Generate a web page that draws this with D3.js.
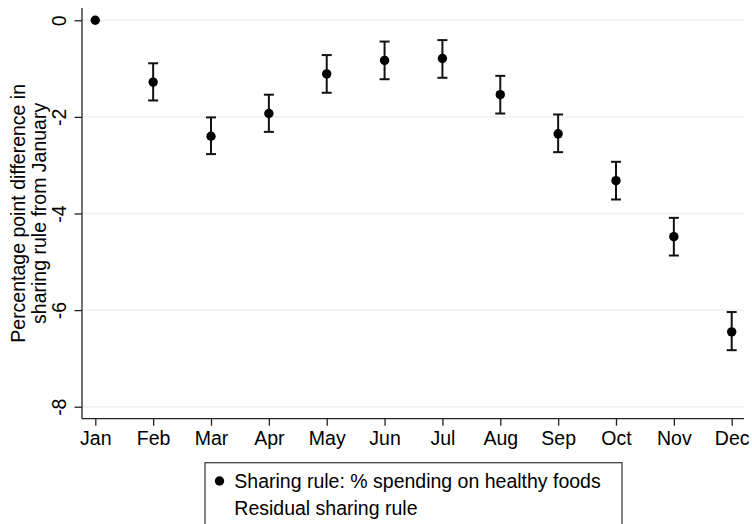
<!DOCTYPE html>
<html>
<head>
<meta charset="utf-8">
<script src="https://cdn.jsdelivr.net/npm/d3@7"></script>
<style>
  html, body { margin: 0; padding: 0; background: #fff; }
  svg { display: block; }
  text { font-family: "Liberation Sans", Arial, sans-serif; fill: #000; }
</style>
</head>
<body>
<svg id="chart" width="752" height="524"></svg>
<script>
const months = ["Jan","Feb","Mar","Apr","May","Jun","Jul","Aug","Sep","Oct","Nov","Dec"];
const estimate = [0, -1.28, -2.40, -1.93, -1.11, -0.83, -0.79, -1.54, -2.35, -3.32, -4.48, -6.45];
const ciLow   = [0, -1.66, -2.77, -2.31, -1.50, -1.22, -1.19, -1.93, -2.73, -3.71, -4.87, -6.83];
const ciHigh  = [0, -0.89, -2.01, -1.54, -0.72, -0.44, -0.41, -1.15, -1.95, -2.93, -4.09, -6.04];
const yTicks = [0, -2, -4, -6, -8];
const yTickLabels = ["0", "-2", "-4", "-6", "-8"];
const yTitle = ["Percentage point difference in", "sharing rule from January"];
const legendLabels = ["Sharing rule: % spending on healthy foods", "Residual sharing rule"];

const svg = d3.select("#chart");
const FS = "19.5px";

const plotLeft = 82, plotRight = 744, plotTop = 8, plotBottom = 418.7;

const x = d3.scaleLinear().domain([0, 11]).range([95.3, 731.7]);
const y = d3.scaleLinear().domain([-8, 0]).range([406.7, 20.3]);

// gridlines
svg.append("g").selectAll("line").data(yTicks).join("line")
  .attr("x1", plotLeft).attr("x2", plotRight)
  .attr("y1", d => y(d)).attr("y2", d => y(d))
  .attr("stroke", "#eaf0f3").attr("stroke-width", 1.5);

// y axis
const yAxis = svg.append("g").attr("transform", `translate(${plotLeft},0)`)
  .call(d3.axisLeft(y).tickValues(yTicks).tickSize(7.5).tickPadding(8)
    .tickFormat((d, i) => yTickLabels[i]));
yAxis.select(".domain").remove();
yAxis.selectAll(".tick line").attr("stroke", "#222").attr("stroke-width", 1.3);
yAxis.selectAll(".tick text")
  .style("font-size", FS)
  .attr("x", null).attr("dy", null)
  .attr("text-anchor", "middle")
  .attr("transform", "translate(-16,0) rotate(-90)")
  .attr("y", 0);
svg.append("line").attr("x1", plotLeft).attr("x2", plotLeft)
  .attr("y1", plotTop).attr("y2", plotBottom)
  .attr("stroke", "#222").attr("stroke-width", 1.3);

// x axis
const xAxis = svg.append("g").attr("transform", `translate(0,${plotBottom})`)
  .call(d3.axisBottom(x).tickValues(d3.range(12)).tickSize(7).tickPadding(5)
    .tickFormat(i => months[i]));
xAxis.select(".domain").remove();
xAxis.selectAll(".tick line").attr("stroke", "#222").attr("stroke-width", 1.3);
xAxis.selectAll(".tick text").style("font-size", FS).attr("dy", "0.71em");
svg.append("line").attr("x1", plotLeft).attr("x2", plotRight)
  .attr("y1", plotBottom).attr("y2", plotBottom)
  .attr("stroke", "#222").attr("stroke-width", 1.3);

// y title
const tt = svg.append("text")
  .attr("transform", `translate(0,${(plotTop + plotBottom) / 2}) rotate(-90)`)
  .attr("text-anchor", "middle")
  .style("font-size", FS);
tt.append("tspan").attr("x", 0).attr("y", 24.5).text(yTitle[0]);
tt.append("tspan").attr("x", 0).attr("y", 45.5).text(yTitle[1]);

// error bars
const idx = d3.range(months.length).filter(i => ciHigh[i] !== ciLow[i]);
const eb = svg.append("g").attr("stroke", "#111").attr("stroke-width", 2).attr("fill", "none");
eb.selectAll("line.v").data(idx).join("line").attr("class", "v")
  .attr("x1", i => x(i)).attr("x2", i => x(i))
  .attr("y1", i => y(ciHigh[i])).attr("y2", i => y(ciLow[i]));
eb.selectAll("line.t").data(idx).join("line").attr("class", "t")
  .attr("x1", i => x(i) - 5).attr("x2", i => x(i) + 5)
  .attr("y1", i => y(ciHigh[i])).attr("y2", i => y(ciHigh[i]));
eb.selectAll("line.b").data(idx).join("line").attr("class", "b")
  .attr("x1", i => x(i) - 5).attr("x2", i => x(i) + 5)
  .attr("y1", i => y(ciLow[i])).attr("y2", i => y(ciLow[i]));

// points
svg.append("g").selectAll("circle").data(estimate).join("circle")
  .attr("cx", (d, i) => x(i)).attr("cy", d => y(d))
  .attr("r", 4.7).attr("fill", "#000");

// legend
const lg = svg.append("g");
lg.append("rect").attr("x", 205).attr("y", 462.7).attr("width", 417).attr("height", 80)
  .attr("fill", "#fff").attr("stroke", "#444").attr("stroke-width", 1.3);
lg.append("circle").attr("cx", 219.5).attr("cy", 481).attr("r", 4.7).attr("fill", "#000");
lg.append("text").attr("x", 234.3).attr("y", 488).style("font-size", FS).text(legendLabels[0]);
lg.append("text").attr("x", 234.3).attr("y", 515).style("font-size", FS).text(legendLabels[1]);
</script>
</body>
</html>
